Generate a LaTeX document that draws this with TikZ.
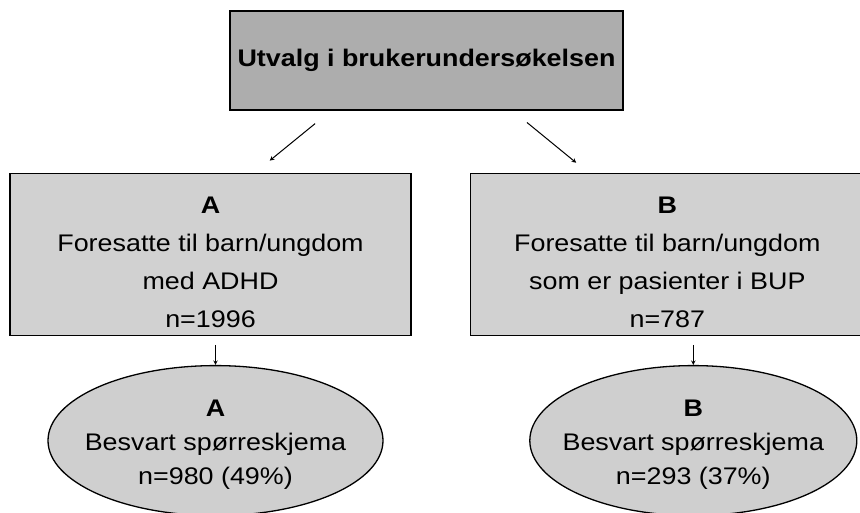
\documentclass[tikz,border=0pt]{standalone}
\usepackage{fontspec}
\setmainfont[FakeStretch=1.12]{Liberation Sans}
\usepackage{xcolor}
\usepackage{tikz}
\usetikzlibrary{positioning,shapes,arrows}
\tikzset{
    title/.style={
        rectangle,
        draw=black,
        line width=1.3pt,
        fill=black!32,
        minimum width=393pt,
        minimum height=99pt,
        inner sep=0pt,
        font=\bfseries\fontsize{24}{30}\selectfont
    },
    group/.style={
        rectangle,
        draw=black,
        line width=1.3pt,
        fill=black!18,
        minimum width=401pt,
        minimum height=162pt,
        inner sep=0pt,
        align=center,
        font=\fontsize{24}{38}\selectfont
    },
    answer/.style={
        ellipse,
        draw=black,
        line width=1.3pt,
        fill=black!19,
        minimum width=335pt,
        minimum height=150pt,
        inner xsep=-25pt,
        inner ysep=-20pt,
        align=center,
        font=\fontsize{24}{34}\selectfont
    },
    arrow/.style={
        ->,
        >=stealth,
        line width=1pt
    }
}

\begin{document}
\begin{tikzpicture}[x=1pt, y=-1pt]
          \useasboundingbox (0,0) rectangle (860,513);
          \node (survey) [title] at (426.5,60.5) {Utvalg i brukerundersøkelsen};
          \node (groupA) [group, below=62pt of survey, xshift=-216pt] {\rule{0pt}{33pt}\textbf{A}\\Foresatte til barn/ungdom\\med ADHD\\n=1996};
          \node (groupB) [group, minimum width=394pt, right=58pt of groupA] {\rule{0pt}{33pt}\textbf{B}\\Foresatte til barn/ungdom\\som er pasienter i BUP\\n=787};
          \node (replyA) [answer, below=29pt of groupA, xshift=5pt] {\rule{0pt}{25pt}\textbf{A}\\Besvart spørreskjema\\n=980 (49\%)};
          \node (replyB) [answer, minimum width=327pt, below=29pt of groupB, xshift=26pt] {\rule{0pt}{25pt}\textbf{B}\\Besvart spørreskjema\\n=293 (37\%)};
          \draw [arrow, shorten <=20.5pt, shorten >=19pt] ([xshift=-95.5pt]survey.south) -- ([xshift=44.5pt]groupA.north);
          \draw [arrow, shorten <=18.7pt, shorten >=15.6pt] ([xshift=86pt]survey.south) -- ([xshift=-79pt]groupB.north);
          \draw [arrow, shorten <=9pt] (groupA.south -| replyA.north) -- (replyA.north);
          \draw [arrow, shorten <=9pt] (groupB.south -| replyB.north) -- (replyB.north);
        \end{tikzpicture}
\end{document}
